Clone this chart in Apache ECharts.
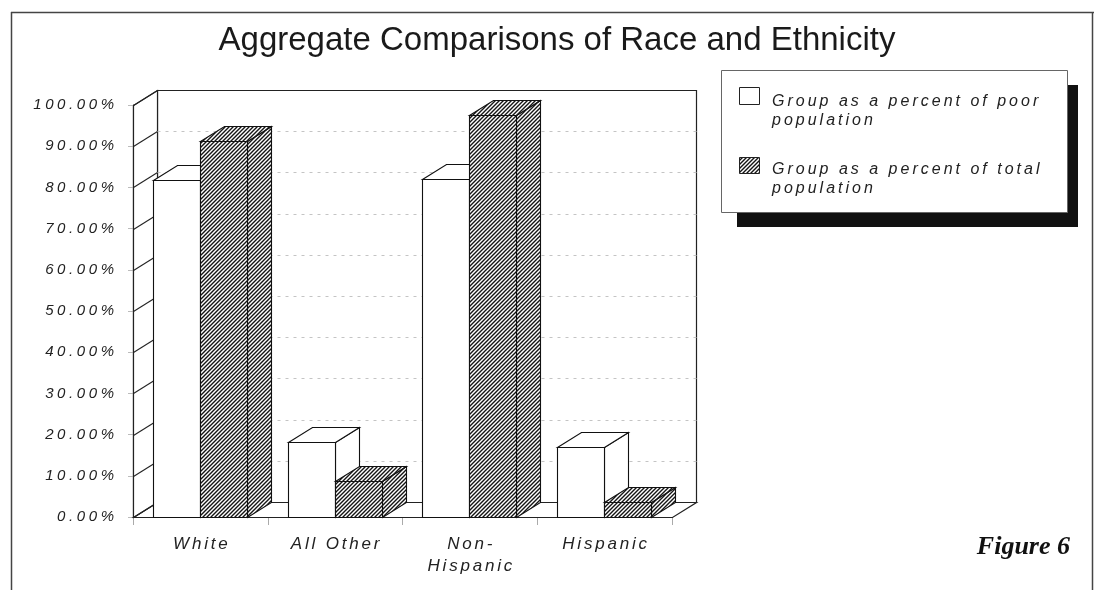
<!DOCTYPE html>
<html><head><meta charset="utf-8">
<script src="https://cdn.jsdelivr.net/npm/echarts@6/dist/echarts.min.js"></script>
<style>html,body{margin:0;padding:0;background:#fff}#c{width:1094px;height:590px}</style>
</head><body><div id="c"></div>
<script>
// ---- data ----
const categories = ['White', 'All Other', 'Non-Hispanic', 'Hispanic'];
const seriesNames = ['Group as a percent of poor population', 'Group as a percent of total population'];
const poorPct = [81.8, 18.2, 82.0, 17.0];
const totalPct = [91.2, 8.8, 97.5, 3.7];
const yTicks = [0, 10, 20, 30, 40, 50, 60, 70, 80, 90, 100];
const titleText = 'Aggregate Comparisons of Race and Ethnicity';
const figureText = 'Figure 6';

// ---- letter spacing for the spaced italic Helvetica-like texts ----
(function () {
  const proto = CanvasRenderingContext2D.prototype;
  if (!('letterSpacing' in proto)) return;
  const orig = proto.fillText;
  const SPACING = { '15': 3.6, '16': 3.0, '17': 2.8 };
  proto.fillText = function (text, x, y, maxW) {
    const f = this.font || '';
    let ls = 0;
    if (/italic/.test(f) && /Liberation Sans/.test(f) && !/bold/.test(f)) {
      const m = /(\d+(?:\.\d+)?)px/.exec(f);
      if (m) ls = SPACING[m[1]] || 0;
    }
    this.save();
    this.letterSpacing = ls + 'px';
    if (ls) {
      if (this.textAlign === 'right' || this.textAlign === 'end') x += ls;
      else if (this.textAlign === 'center') x += ls / 2;
    }
    const r = maxW === undefined ? orig.call(this, text, x, y) : orig.call(this, text, x, y, maxW);
    this.restore();
    return r;
  };
})();

// ---- hatch pattern ----
function makeHatch() {
  const s = 4;
  const cv = document.createElement('canvas');
  cv.width = s; cv.height = s;
  const ctx = cv.getContext('2d');
  ctx.fillStyle = '#fff'; ctx.fillRect(0, 0, s, s);
  ctx.strokeStyle = '#141414'; ctx.lineWidth = 1.4;
  ctx.beginPath();
  ctx.moveTo(-1, s + 1); ctx.lineTo(s + 1, -1);
  ctx.moveTo(-1, 1); ctx.lineTo(1, -1);
  ctx.moveTo(s - 1, s + 1); ctx.lineTo(s + 1, s - 1);
  ctx.stroke();
  return { image: cv, repeat: 'repeat' };
}
const hatch = makeHatch();
const fills = ['#ffffff', hatch];

const DEPTH = [24, -15];
const BAR_W = 0.35;      // fraction of category band
const BAR_OFF = 0.148;   // left gap fraction

function px(v) { return Math.round(v) + 0.5; }

function barRender(idx) {
  return function (params, api) {
    const ci = api.value(0), v = api.value(1);
    const band = api.size([1, 0])[0];
    const top = api.coord([ci, v]);
    const base = api.coord([ci, 0]);
    const w = Math.round(band * BAR_W);
    const x0 = px(top[0] - band / 2 + band * BAR_OFF + idx * w);
    const x1 = x0 + w;
    const yT = px(top[1]), yB = px(base[1]);
    const dx = DEPTH[0], dy = DEPTH[1];
    const st = { fill: fills[idx], stroke: '#111', lineWidth: 1.1 };
    return {
      type: 'group',
      children: [
        { type: 'polygon', shape: { points: [[x1, yT], [x1, yB], [x1 + dx, yB + dy], [x1 + dx, yT + dy]] }, style: st },
        { type: 'polygon', shape: { points: [[x0, yT], [x1, yT], [x1 + dx, yT + dy], [x0 + dx, yT + dy]] }, style: st },
        { type: 'rect', shape: { x: x0, y: yT, width: w, height: yB - yT }, style: st }
      ]
    };
  };
}

function wallRender(params, api) {
  const band = api.size([1, 0])[0];
  const xL = px(api.coord([0, 0])[0] - band / 2);
  const xR = px(api.coord([categories.length - 1, 0])[0] + band / 2);
  const y0 = px(api.coord([0, 0])[1]);
  const y100 = px(api.coord([0, yTicks[yTicks.length - 1]])[1]);
  const dx = DEPTH[0], dy = DEPTH[1];
  const line = { stroke: '#222', lineWidth: 1.2, fill: '#fff' };
  const ch = [];
  ch.push({ type: 'polygon', shape: { points: [[xL + dx, y100 + dy], [xR + dx, y100 + dy], [xR + dx, y0 + dy], [xL + dx, y0 + dy]] }, style: line });
  ch.push({ type: 'polygon', shape: { points: [[xL, y0], [xR, y0], [xR + dx, y0 + dy], [xL + dx, y0 + dy]] }, style: line });
  ch.push({ type: 'polygon', shape: { points: [[xL, y0], [xL, y100], [xL + dx, y100 + dy], [xL + dx, y0 + dy]] }, style: line });
  yTicks.forEach(function (v) {
    const y = px(api.coord([0, v])[1]);
    ch.push({ type: 'line', shape: { x1: xL, y1: y, x2: xL + dx, y2: y + dy }, style: { stroke: '#222', lineWidth: 1.1 } });
    if (v > yTicks[0] && v < yTicks[yTicks.length - 1]) {
      ch.push({ type: 'line', shape: { x1: xL + dx, y1: y + dy, x2: xR + dx, y2: y + dy }, style: { stroke: '#c4c4c4', lineWidth: 1, lineDash: [3, 5] } });
    }
  });
  return { type: 'group', children: ch };
}

const chart = echarts.init(document.getElementById('c'), null, { renderer: 'canvas' });

const legendFont = 'italic 16px "Liberation Sans"';
function legendLabel(name) { return name.replace(/ (population)$/, '\n$1'); }

chart.setOption({
  animation: false,
  backgroundColor: '#fff',
  title: {
    text: titleText,
    left: 557,
    textAlign: 'center',
    top: 24,
    padding: 0,
    textStyle: { fontFamily: 'Liberation Sans', fontWeight: 'normal', fontSize: 33, color: '#1a1a1a' }
  },
  grid: { left: 133, right: 422, top: 105, bottom: 73, containLabel: false },
  xAxis: {
    type: 'category',
    data: categories,
    axisLine: { show: true, lineStyle: { color: '#222', width: 1.2 } },
    axisTick: { show: true, length: 8, lineStyle: { color: '#aaa' } },
    axisLabel: {
      margin: 16,
      fontFamily: 'Liberation Sans', fontStyle: 'italic', fontSize: 17, lineHeight: 22, color: '#222',
      formatter: function (v) { return v.replace('Non-', 'Non-\n'); }
    },
    splitLine: { show: false }
  },
  yAxis: {
    type: 'value', min: 0, max: 100, interval: 10,
    axisLine: { show: true, lineStyle: { color: '#222', width: 1.2 } },
    axisTick: { show: true, length: 5, lineStyle: { color: '#bbb' } },
    axisLabel: {
      margin: 19,
      fontFamily: 'Liberation Sans', fontStyle: 'italic', fontSize: 15, color: '#222',
      formatter: function (v) { return v.toFixed(2) + '%'; }
    },
    splitLine: { show: false }
  },
  series: [
    { type: 'custom', name: 'walls', z: 1, renderItem: wallRender, data: [[0, 0]], silent: true, encode: { x: 0, y: 1 } },
    { type: 'custom', name: seriesNames[0], z: 2, renderItem: barRender(0), data: poorPct.map(function (v, i) { return [i, v]; }), encode: { x: 0, y: 1 } },
    { type: 'custom', name: seriesNames[1], z: 3, renderItem: barRender(1), data: totalPct.map(function (v, i) { return [i, v]; }), encode: { x: 0, y: 1 } }
  ],
  graphic: [
    // outer frame
    { type: 'line', shape: { x1: 11.5, y1: 12, x2: 11.5, y2: 590 }, style: { stroke: '#444', lineWidth: 1.5 } },
    { type: 'line', shape: { x1: 11, y1: 12.5, x2: 1094, y2: 12.5 }, style: { stroke: '#444', lineWidth: 1.5 } },
    { type: 'line', shape: { x1: 1092.5, y1: 12, x2: 1092.5, y2: 590 }, style: { stroke: '#444', lineWidth: 1.5 } },
    // legend
    { type: 'rect', shape: { x: 737, y: 85, width: 341, height: 142 }, style: { fill: '#111' } },
    { type: 'rect', shape: { x: 721.5, y: 70.5, width: 346, height: 142 }, style: { fill: '#fff', stroke: '#666', lineWidth: 1 } },
    { type: 'rect', shape: { x: 739.5, y: 87.5, width: 20, height: 17 }, style: { fill: fills[0], stroke: '#222', lineWidth: 1 } },
    { type: 'text', x: 772, y: 92.5, style: { text: legendLabel(seriesNames[0]), font: legendFont, lineHeight: 19, fill: '#222', verticalAlign: 'top' } },
    { type: 'rect', shape: { x: 739.5, y: 157.5, width: 20, height: 16 }, style: { fill: fills[1], stroke: '#222', lineWidth: 1 } },
    { type: 'text', x: 772, y: 160.5, style: { text: legendLabel(seriesNames[1]), font: legendFont, lineHeight: 19, fill: '#222', verticalAlign: 'top' } },
    // figure label
    { type: 'text', x: 1070, y: 547, style: { text: figureText, font: 'italic bold 26px "Liberation Serif"', fill: '#111', align: 'right', verticalAlign: 'middle' } }
  ]
});
</script>
</body></html>
